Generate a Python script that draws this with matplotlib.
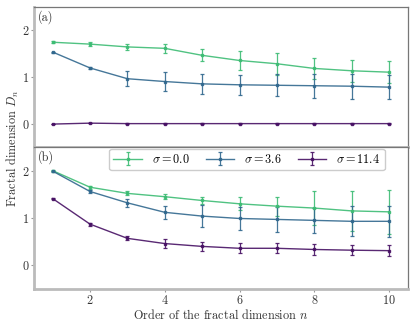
import numpy as np
import matplotlib
matplotlib.use("Agg")
import matplotlib.pyplot as plt

plt.rcParams['font.family'] = 'serif'
plt.rcParams['font.serif'] = ['cmr10', 'DejaVu Serif']
plt.rcParams['mathtext.fontset'] = 'cm'
plt.rcParams['axes.formatter.use_mathtext'] = True

n = np.arange(1, 11)
labels = [r'$\sigma = 0.0$', r'$\sigma = 3.6$', r'$\sigma = 11.4$']
colors = ['#3dbc74', '#31688e', '#471164']

# panel (a)
a_mean = [
    [1.74, 1.70, 1.64, 1.61, 1.46, 1.35, 1.28, 1.18, 1.13, 1.10],
    [1.53, 1.19, 0.96, 0.90, 0.85, 0.83, 0.82, 0.81, 0.80, 0.78],
    [-0.01, 0.01, 0.0, 0.0, 0.0, 0.0, 0.0, 0.0, 0.0, 0.0],
]
a_err = [
    [0.02, 0.046, 0.07, 0.10, 0.13, 0.20, 0.23, 0.23, 0.23, 0.24],
    [0.01, 0.03, 0.16, 0.20, 0.21, 0.22, 0.24, 0.26, 0.27, 0.26],
    [0.005, 0.005, 0.005, 0.005, 0.005, 0.005, 0.005, 0.005, 0.005, 0.005],
]
# panel (b)
b_mean = [
    [2.00, 1.65, 1.52, 1.45, 1.37, 1.30, 1.25, 1.21, 1.15, 1.13],
    [1.99, 1.56, 1.32, 1.12, 1.04, 0.99, 0.97, 0.95, 0.93, 0.93],
    [1.41, 0.87, 0.57, 0.46, 0.40, 0.36, 0.36, 0.335, 0.32, 0.31],
]
b_err = [
    [0.01, 0.03, 0.04, 0.05, 0.07, 0.14, 0.20, 0.36, 0.42, 0.46],
    [0.01, 0.03, 0.09, 0.14, 0.24, 0.24, 0.26, 0.27, 0.32, 0.33],
    [0.01, 0.03, 0.04, 0.10, 0.10, 0.11, 0.11, 0.12, 0.11, 0.12],
]

fs = 8.8
fig = plt.figure(figsize=(4.15, 3.29), dpi=100)
ax1 = fig.add_axes([34/415, 1-147/329, (407.7-34)/415, (147-6.7)/329])
ax2 = fig.add_axes([34/415, 1-289/329, (407.7-34)/415, (289-147)/329])

for ax, means, errs, tag in [(ax1, a_mean, a_err, '(a)'), (ax2, b_mean, b_err, '(b)')]:
    for m, e, c, lab in zip(means, errs, colors, labels):
        ax.errorbar(n, m, yerr=e, color=c, marker='s', markersize=2, lw=1.0,
                    elinewidth=0.9, capsize=1.5, capthick=0.9, alpha=0.9, label=lab)
    ax.set_xlim(0.5, 10.5)
    ax.set_ylim(-0.5, 2.5)
    ax.set_yticks([0, 1, 2])
    ax.set_xticks([2, 4, 6, 8, 10])
    ax.tick_params(direction='out', length=2, width=0.8, color='#999999', pad=1.5,
                   labelsize=fs, labelcolor='#333333')
    for s in ['left', 'bottom']:
        ax.spines[s].set_color('#bbbbbb')
        ax.spines[s].set_linewidth(2.0)
    for s in ['top', 'right']:
        ax.spines[s].set_color('#777777')
        ax.spines[s].set_linewidth(0.9)
    ax.text(0.01, 0.975, tag, transform=ax.transAxes, ha='left', va='top', fontsize=fs,
            color='#333333')

ax1.tick_params(labelbottom=False)
ax2.set_xlabel(r'Order of the fractal dimension $n$', fontsize=fs, color='#333333', labelpad=1)
fig.text(0.031, 0.55, r'Fractal dimension $D_n$', rotation=90, ha='center', va='center',
         fontsize=fs, color='#333333')

leg = ax2.legend(loc='upper center', bbox_to_anchor=(0.570, 1.032), ncol=3, fontsize=fs,
                 frameon=True, fancybox=True, framealpha=1.0, edgecolor='#cccccc',
                 handlelength=2.3, columnspacing=1.3, handletextpad=0.85, borderpad=0.35)
leg.set_zorder(10)

fig.savefig('out.png', dpi=100)
